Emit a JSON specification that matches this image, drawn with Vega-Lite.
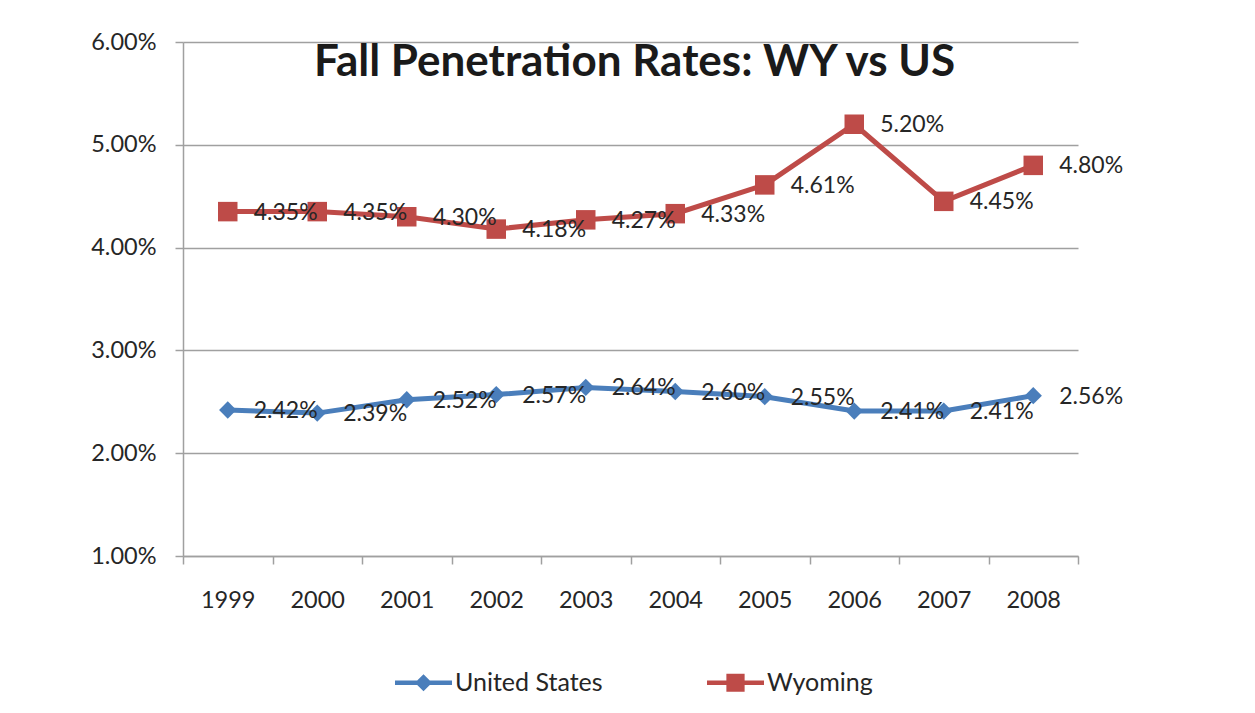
{
  "$schema": "https://vega.github.io/schema/vega-lite/v6.json",
  "width": 895,
  "height": 514,
  "autosize": {"type": "none"},
  "padding": {"left": 183, "top": 42, "right": 177, "bottom": 157},
  "background": "white",
  "title": {
    "text": "Fall Penetration Rates: WY vs US",
    "font": "Lato",
    "fontSize": 44,
    "fontWeight": "bold",
    "color": "#1a1a1a",
    "anchor": "middle",
    "frame": "group",
    "baseline": "alphabetic",
    "offset": -33,
    "dx": 4,
    "dy": 57
  },
  "config": {
    "font": "Lato",
    "view": {"stroke": null},
    "axis": {
      "labelFont": "Lato",
      "labelFontSize": 23.5,
      "labelColor": "#262626",
      "domainColor": "#A0A0A0",
      "tickColor": "#A0A0A0",
      "gridColor": "#A0A0A0",
      "domainWidth": 1.5,
      "tickWidth": 1.5,
      "gridWidth": 1.5,
      "tickSize": 8,
      "title": null
    },
    "legend": {
      "labelFont": "Lato",
      "labelFontSize": 25,
      "labelColor": "#262626"
    }
  },
  "data": {
    "values": [
      {"year": "1999", "series": "United States", "value": 0.0242},
      {"year": "2000", "series": "United States", "value": 0.0239},
      {"year": "2001", "series": "United States", "value": 0.0252},
      {"year": "2002", "series": "United States", "value": 0.0257},
      {"year": "2003", "series": "United States", "value": 0.0264},
      {"year": "2004", "series": "United States", "value": 0.0260},
      {"year": "2005", "series": "United States", "value": 0.0255},
      {"year": "2006", "series": "United States", "value": 0.0241},
      {"year": "2007", "series": "United States", "value": 0.0241},
      {"year": "2008", "series": "United States", "value": 0.0256},
      {"year": "1999", "series": "Wyoming", "value": 0.0435},
      {"year": "2000", "series": "Wyoming", "value": 0.0435},
      {"year": "2001", "series": "Wyoming", "value": 0.0430},
      {"year": "2002", "series": "Wyoming", "value": 0.0418},
      {"year": "2003", "series": "Wyoming", "value": 0.0427},
      {"year": "2004", "series": "Wyoming", "value": 0.0433},
      {"year": "2005", "series": "Wyoming", "value": 0.0461},
      {"year": "2006", "series": "Wyoming", "value": 0.0520},
      {"year": "2007", "series": "Wyoming", "value": 0.0445},
      {"year": "2008", "series": "Wyoming", "value": 0.0480}
    ]
  },
  "encoding": {
    "x": {
      "field": "year",
      "type": "ordinal",
      "scale": {"paddingInner": 0, "paddingOuter": 0},
      "axis": {
        "labelAngle": 0,
        "tickBand": "extent",
        "labelPadding": 24,
        "grid": false
      }
    },
    "y": {
      "field": "value",
      "type": "quantitative",
      "scale": {"domain": [0.01, 0.06], "nice": false, "zero": false},
      "axis": {
        "values": [0.01, 0.02, 0.03, 0.04, 0.05, 0.06],
        "format": ".2%",
        "labelPadding": 19,
        "grid": true
      }
    }
  },
  "layer": [
    {
      "mark": {"type": "line", "strokeWidth": 5},
      "encoding": {
        "color": {
          "field": "series",
          "type": "nominal",
          "scale": {"domain": ["United States", "Wyoming"], "range": ["#4A7EBB", "#BE4B48"]},
          "legend": {
            "orient": "none",
            "legendX": 212,
            "legendY": 612,
            "direction": "horizontal",
            "title": null,
            "symbolSize": 3249,
            "labelOffset": 3,
            "columnPadding": 104,
            "encode": {
              "symbols": {
                "update": {
                  "shape": {"signal": "datum.value === 'United States' ? 'M-1,-0.08L1,-0.08L1,0.08L-1,0.08Z M0,-0.3L0.3,0L0,0.3L-0.3,0Z' : 'M-1,-0.08L1,-0.08L1,0.08L-1,0.08Z M-0.32,-0.32L0.32,-0.32L0.32,0.32L-0.32,0.32Z'"},
                  "size": {"value": 3249},
                  "fill": {"signal": "datum.value === 'United States' ? '#4A7EBB' : '#BE4B48'"},
                  "fillOpacity": {"value": 1},
                  "strokeWidth": {"value": 0},
                  "opacity": {"value": 1}
                }
              }
            }
          }
        }
      }
    },
    {
      "transform": [{"filter": "datum.series === 'United States'"}],
      "mark": {"type": "point", "filled": true, "opacity": 1, "shape": "diamond", "size": 300, "color": "#4A7EBB"}
    },
    {
      "transform": [{"filter": "datum.series === 'Wyoming'"}],
      "mark": {"type": "point", "filled": true, "opacity": 1, "shape": "square", "size": 380, "color": "#BE4B48"}
    },
    {
      "mark": {"type": "text", "align": "left", "baseline": "middle", "dx": 26, "dy": 1, "fontSize": 23, "font": "Lato", "color": "#262626"},
      "encoding": {
        "text": {"field": "value", "type": "quantitative", "format": ".2%"}
      }
    }
  ]
}
